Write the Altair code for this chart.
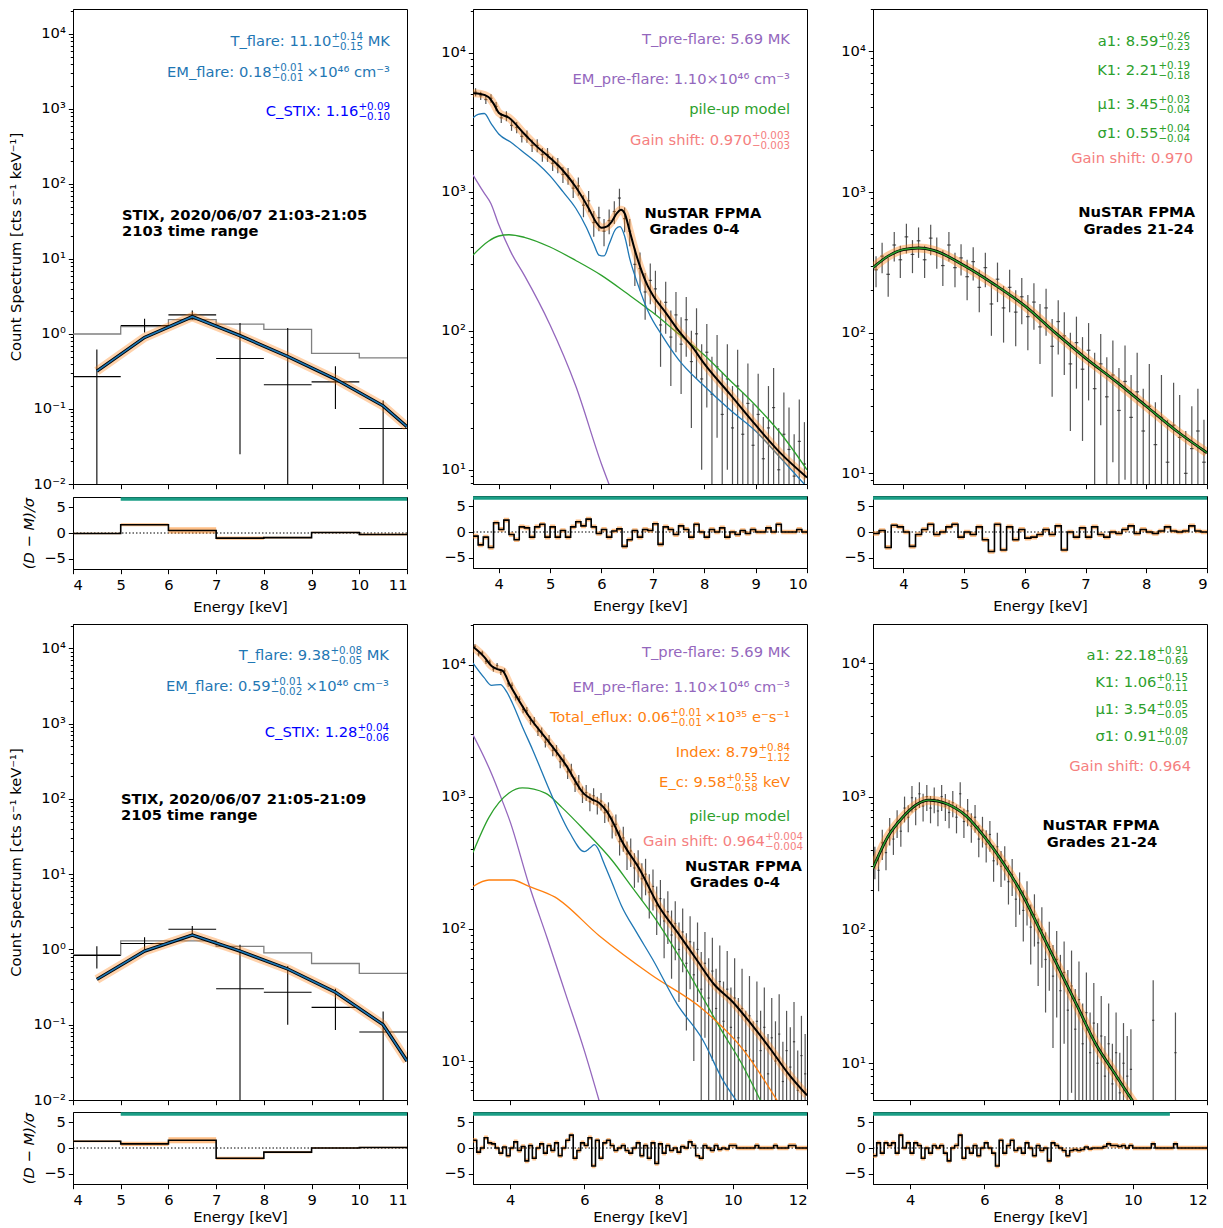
import altair as alt
import numpy as np
import pandas as pd

FONT = "DejaVu Sans"
FS = 14.7
SS = 10.3
W = 334
RES_H = 72

BLUE = "#1f77b4"; PBLUE = "#0000ff"; PURPLE = "#9467bd"; GREEN = "#2ca02c"
ORANGE = "#ff7f0e"; PINK = "#f58080"; TEAL = "#1a9e86"; GREY = "#808080"; DATA = "#2a2a2a"

# ---------------- STIX panels ----------------
STIX_E = [4.5, 5.5, 6.5, 7.5, 8.5, 9.5, 10.5]
STIX_EDGES = [4, 5, 6, 7, 8, 9, 10, 11]
STIX_MODEL_E = [4.5, 5.5, 6.5, 7.5, 8.5, 9.5, 10.5, 11.0]

TL_COUNTS = [0.27, 1.3, 1.8, 0.47, 0.21, 0.23, 0.055]
TL_LO = [0.01, 1.05, 1.55, 0.025, 0.01, 0.10, 0.01]
TL_HI = [0.62, 1.6, 2.05, 1.4, 1.2, 0.37, 0.13]
TL_BKG = [1.0, 1.25, 1.55, 1.35, 1.15, 0.55, 0.48]
TL_MODEL = [0.32, 0.9, 1.7, 0.95, 0.5, 0.25, 0.11, 0.058]
TL_RES = [-0.1, 1.6, 0.5, -1.0, -0.9, 0.1, -0.3]
TL_RES_W = [0.15, 0.3, 0.6, 0.3, 0.15, 0.15, 0.2]

BL_COUNTS = [0.83, 1.2, 1.85, 0.3, 0.27, 0.17, 0.08]
BL_LO = [0.56, 1.0, 1.6, 0.01, 0.1, 0.085, 0.01]
BL_HI = [1.1, 1.45, 2.05, 1.15, 0.6, 0.3, 0.15]
BL_BKG = [0.85, 1.3, 1.3, 1.1, 0.9, 0.65, 0.48]
BL_MODEL = [0.4, 0.95, 1.55, 0.95, 0.55, 0.27, 0.1, 0.033]
BL_RES = [1.3, 0.8, 1.5, -2.0, -0.8, 0.0, 0.1]
BL_RES_W = [0.2, 0.4, 0.6, 0.3, 0.2, 0.15, 0.15]

# ---------------- NuSTAR top-middle (grades 0-4, 2103) ----------------
TM_E = [round(3.55 + 0.1 * i, 2) for i in range(65)]
TM_COUNTS = [5200, 4900, 4600, 4700, 4100, 3400, 3500, 3000, 2900, 2500,
             2500, 2150, 2150, 1850, 1850, 1600, 1550, 1330, 1300, 1060,
             1100, 800, 860, 600, 650, 520, 620, 720, 900, 640,
             520, 300, 280, 190, 230, 200, 110, 160, 90, 130,
             80, 120, 60, 95, 45, 70, 35, 55, 25, 45,
             20, 40, 18, 30, 15, 25, 12, 20, 28, 10,
             18, 14, 9, 16, 11]
TM_ERR = [350, 340, 320, 330, 310, 280, 290, 260, 270, 240,
          250, 220, 230, 210, 210, 190, 195, 175, 180, 160,
          165, 145, 150, 125, 130, 115, 125, 135, 150, 130,
          115, 90, 85, 70, 75, 70, 55, 65, 50, 60,
          45, 55, 40, 50, 35, 42, 30, 38, 25, 35,
          20, 33, 18, 28, 15, 24, 12, 20, 26, 10,
          18, 14, 9, 16, 11]
TM_TOT_E = [3.5, 3.65, 3.8, 3.9, 4.0, 4.2, 4.5, 4.75, 5.0, 5.25, 5.5, 5.75, 5.9, 6.0, 6.1, 6.2,
            6.3, 6.38, 6.45, 6.55, 6.65, 6.75, 6.9, 7.0, 7.25, 7.5, 7.75, 8.0, 8.5, 9.0, 9.5, 10.0]
TM_TOT = [5100, 5050, 4800, 4300, 3700, 3400, 2600, 2100, 1750, 1420, 1080, 760, 600, 550, 560, 610,
          700, 740, 700, 520, 380, 290, 210, 180, 135, 100, 78, 58, 35, 21, 13, 8.8]
TM_FLARE_E = [3.5, 3.6, 3.72, 3.85, 4.0, 4.25, 4.5, 4.75, 5.0, 5.25, 5.5, 5.7, 5.85, 5.95, 6.05,
              6.15, 6.28, 6.36, 6.45, 6.55, 6.7, 6.9, 7.2, 7.5, 8.0, 8.5, 9.0, 9.5, 10.0]
TM_FLARE = [3400, 3600, 3650, 3100, 2600, 2250, 1900, 1600, 1300, 1000, 760, 560, 420, 350, 345,
            420, 540, 560, 480, 330, 220, 140, 90, 62, 40, 27, 19, 12, 7.5]
TM_PRE_E = [3.5, 3.7, 3.85, 4.0, 4.25, 4.5, 5.0, 5.5, 6.0, 6.2]
TM_PRE = [1320, 1000, 820, 580, 360, 250, 110, 40, 11, 7]
TM_PILE_E = [3.5, 3.8, 4.0, 4.2, 4.5, 5.0, 5.5, 6.0, 6.5, 7.0, 7.5, 8.0, 8.5, 9.0, 9.5, 10.0]
TM_PILE = [350, 440, 480, 490, 470, 400, 320, 250, 185, 135, 95, 67, 44, 29, 18, 10]
TM_RES_E = [round(3.5 + 0.1 * i, 2) for i in range(65)]
TM_RES = [-0.8, -2.5, -1.0, -3.0, 1.8, 0.5, 2.3, -0.5, -1.5, 1.0,
          0.8, -1.0, 1.0, 1.5, -1.0, 1.0, -1.0, 0.3, -1.0, 1.0,
          2.0, 1.2, 2.5, 1.0, -0.3, 0.5, -1.0, 0.2, 0.6, -2.8,
          -1.5, 0.3, -1.0, 0.5, 0.3, 1.6, -2.4, 1.0, 0.5, -0.5,
          1.2, 0.5, -1.0, 1.5, 0.0, -1.0, 0.5, 0.0, 0.8, -1.0,
          0.0, -0.5, 0.3, -0.3, 0.5, 0.0, 0.0, 0.8, 0.0, 1.5,
          0.0, 0.0, 0.0, 0.5, 0.0]

# ---------------- NuSTAR top-right (grades 21-24, 2103) ----------------
TR_E = [round(3.55 + 0.1 * i, 2) for i in range(55)]
TR_COUNTS = [280, 350, 260, 420, 330, 480, 360, 450, 330, 470,
             380, 300, 420, 290, 340, 250, 320, 210, 290, 160,
             240, 150, 210, 140, 180, 130, 165, 110, 150, 80,
             120, 95, 60, 85, 55, 75, 40, 60, 35, 50,
             28, 45, 25, 38, 20, 30, 16, 25, 12, 22,
             18, 10, 15, 20, 12]
TR_ERR = [70, 85, 80, 100, 85, 115, 95, 110, 85, 115,
          95, 85, 100, 80, 85, 80, 85, 70, 80, 65,
          75, 65, 70, 60, 65, 55, 60, 50, 55, 45,
          50, 45, 40, 45, 38, 42, 32, 38, 32, 38,
          28, 36, 25, 34, 20, 30, 16, 25, 12, 22,
          18, 10, 15, 20, 12]
TR_MOD_E = [3.5, 3.75, 4.0, 4.25, 4.5, 5.0, 5.5, 6.0, 6.5, 7.0, 7.5, 8.0, 8.5, 9.0]
TR_MOD = [290, 350, 390, 400, 385, 300, 220, 155, 100, 66, 45, 30, 20, 14]
TR_RES_E = [round(3.5 + 0.1 * i, 2) for i in range(55)]
TR_RES = [-0.3, 0.3, -3.0, 1.3, 1.0, 0.0, -2.8, -0.5, 0.5, 1.5,
          -0.5, 0.0, 1.0, 1.5, -1.0, 0.0, -0.5, 1.0, -1.5, -3.8,
          1.5, -3.5, 1.0, -1.5, 0.5, -1.2, -1.0, -0.5, 0.5, -0.5,
          1.2, -3.5, 0.0, -1.0, 0.8, -1.0, 1.0, -0.5, -1.0, 0.0,
          -0.3, 0.5, 1.2, -0.3, 0.5, 0.0, -0.3, 0.2, 1.0, 0.2,
          0.0, 0.2, 1.2, 0.2, 0.0]

# ---------------- NuSTAR bottom-middle (grades 0-4, 2105) ----------------
BM_E = [round(3.05 + 0.1 * i, 2) for i in range(90)]
BM_COUNTS = [13800, 12100, 12300, 10600, 10500, 9300, 9900, 8800, 9000, 7200,
             7000, 5700, 5500, 4600, 4500, 3800, 3750, 3150, 3100, 2600,
             2700, 2250, 2250, 1850, 1900, 1550, 1600, 1250, 1300, 1050,
             1080, 920, 1020, 870, 930, 760, 780, 600, 620, 460,
             490, 370, 390, 290, 310, 240, 260, 190, 210, 150,
             170, 115, 135, 90, 110, 70, 95, 55, 80, 45,
             70, 35, 55, 30, 48, 25, 40, 20, 35, 18,
             30, 15, 25, 12, 22, 10, 20, 12, 18, 8,
             15, 10, 16, 7, 12, 9, 14, 6, 11, 8]
BM_ERR = [500, 470, 480, 450, 440, 420, 430, 410, 410, 370,
          360, 330, 320, 300, 300, 280, 280, 260, 250, 230,
          240, 220, 220, 200, 200, 180, 180, 160, 165, 150,
          150, 140, 145, 135, 140, 125, 130, 115, 115, 100,
          105, 90, 95, 85, 85, 75, 80, 70, 72, 60,
          65, 55, 58, 48, 52, 42, 48, 38, 45, 35,
          42, 32, 40, 30, 38, 25, 35, 20, 33, 18,
          30, 15, 25, 12, 22, 10, 20, 12, 18, 8,
          15, 10, 16, 7, 12, 9, 14, 6, 11, 8]
BM_TOT_E = [3.0, 3.3, 3.5, 3.65, 3.8, 4.0, 4.25, 4.5, 5.0, 5.5, 6.0, 6.2, 6.4, 6.6, 6.8, 7.0,
            7.5, 8.0, 8.5, 9.0, 9.5, 10.0, 10.5, 11.0, 11.5, 12.0]
BM_TOT = [13700, 11500, 9800, 9300, 9000, 7000, 5300, 4100, 2700, 1750, 1050, 960, 900, 780, 620, 470,
          280, 150, 95, 60, 38, 28, 19, 12.5, 8, 5.5]
BM_FLARE_E = [3.0, 3.3, 3.5, 3.74, 3.9, 4.06, 4.33, 4.6, 5.14, 5.6, 6.0, 6.15, 6.27, 6.4, 6.5,
              6.75, 7.0, 7.4, 7.84, 8.5, 9.19, 9.73, 10.1]
BM_FLARE = [10300, 8000, 7000, 7100, 6300, 5150, 3400, 2300, 1000, 540, 385, 410, 435, 390, 330,
            223, 150, 95, 59, 27, 14.5, 7.2, 5]
BM_PRE_E = [3.0, 3.5, 3.78, 4.0, 4.5, 5.0, 5.5, 6.0, 6.4]
BM_PRE = [2950, 1500, 950, 650, 220, 85, 32, 12, 5]
BM_PILE_E = [3.0, 3.43, 3.97, 4.33, 4.95, 5.4, 6.0, 6.75, 7.27, 8.0, 8.6, 9.2, 9.7, 10.2, 10.75]
BM_PILE = [380, 700, 1070, 1170, 1070, 830, 560, 330, 210, 110, 59, 30, 17, 10, 5]
BM_NT_E = [3.0, 3.43, 4.06, 4.51, 5.2, 6.4, 7.8, 9.2, 10.3, 11.2]
BM_NT = [210, 235, 235, 210, 175, 89, 45, 24.6, 12, 5]
BM_RES_E = [round(3.0 + 0.1 * i, 2) for i in range(90)]
BM_RES = [1.5, -0.8, 0.0, 2.0, 1.0, 0.8, 0.0, -1.0, 0.2, -1.5,
          0.0, 1.2, -0.5, 0.3, -2.5, 0.5, -2.0, 0.0, 0.8, -1.0,
          0.5, -0.5, 1.0, -1.5, 0.0, 1.5, 2.5, -2.0, -0.5, 1.0,
          0.5, 2.0, -3.5, 1.5, -2.0, 1.0, 1.5, 0.5, -0.5, 0.0,
          0.5, -0.5, -1.0, 0.0, 1.0, -1.5, 0.5, -2.0, 1.0, -3.0,
          0.8, -1.0, 0.5, -0.5, 0.0, -0.8, 0.3, 0.0, 1.2, 0.5,
          -1.5, -2.0, 0.5, 0.0, -0.5, 0.5, -0.3, 0.0, -0.2, 0.5,
          0.5, 0.0, 0.0, 0.0, 0.0, 0.0, 0.5, 0.0, 0.0, 0.0,
          0.0, 0.5, 0.0, 0.0, 0.0, 0.5, 0.5, 0.0, 0.0, 0.0]

# ---------------- NuSTAR bottom-right (grades 21-24, 2105) ----------------
BR_E = [round(3.05 + 0.1 * i, 2) for i in range(70)] + [10.55, 11.15]
BR_COUNTS = [330, 280, 450, 380, 560, 480, 640, 550, 820, 700,
             980, 800, 1050, 850, 1000, 820, 960, 780, 1000, 850,
             760, 900, 700, 1050, 650, 780, 600, 700, 480, 560,
             440, 520, 330, 420, 300, 330, 230, 260, 170, 200,
             140, 170, 105, 130, 80, 100, 60, 75, 45, 60,
             35, 48, 25, 38, 18, 30, 14, 24, 12, 20,
             10, 16, 8, 14, 7, 12, 6, 10, 8, 9,
             21, 12]
BR_ERR = [90, 85, 115, 100, 130, 115, 150, 130, 180, 160,
          220, 190, 230, 200, 220, 190, 210, 180, 220, 195,
          180, 200, 170, 230, 160, 180, 150, 165, 130, 145,
          120, 135, 100, 115, 90, 95, 75, 80, 65, 70,
          58, 62, 50, 55, 42, 48, 36, 40, 32, 38,
          30, 34, 25, 32, 18, 28, 14, 24, 12, 20,
          10, 16, 8, 14, 7, 12, 6, 10, 8, 9,
          21, 12]
BR_MOD_E = [3.0, 3.4, 3.8, 4.2, 4.5, 5.0, 5.5, 6.0, 6.5, 7.0, 7.5, 8.0, 8.5, 9.0, 9.5, 10.0, 10.3]
BR_MOD = [290, 500, 700, 880, 940, 880, 720, 500, 320, 190, 100, 52, 27, 14, 8.5, 5.2, 4.0]
BR_RES_E = [round(3.0 + 0.1 * i, 2) for i in range(90)]
BR_RES = [-1.5, 1.0, -1.0, 1.0, 0.5, 1.0, -1.0, 2.5, 0.0, 1.0,
          -1.0, 1.0, 0.5, -2.0, 0.0, -1.0, 0.5, 0.0, 0.5, -1.0,
          -2.5, 0.0, 0.5, 2.5, -2.0, 0.0, -1.0, 0.5, -1.5, 0.0,
          1.0, 0.0, -1.0, -3.5, 1.5, -1.0, 0.5, 1.5, -0.5, 0.0,
          -1.0, 1.0, 0.0, -1.5, 0.5, -0.5, 0.0, -2.5, 1.0, 0.5,
          0.0, -0.5, -1.5, -0.5, -0.3, -0.5, -0.3, 0.2, -0.2, 0.0,
          0.0, 0.0, 0.3, 0.8, 0.5, 0.5, 0.3, 0.5, 0.0, 0.5,
          0.0, 0.0, 0.0, 0.0, 0.0, 0.8, 0.0, 0.0, 0.0, 0.0,
          0.0, 0.8, 0.0, 0.0, 0.0, 0.0, 0.0, 0.0, 0.0, 0.0]

# fit ranges (teal bars)
FIT_TL = [5, 11]; FIT_TM = [3.5, 10]; FIT_TR = [3.5, 9]
FIT_BL = [5, 11]; FIT_BM = [3, 12]; FIT_BR = [3, 11]
FIT_BAR_Y = 6.6

for a, b in [(TM_E, TM_COUNTS), (TM_E, TM_ERR), (TM_RES_E, TM_RES), (TR_E, TR_COUNTS), (TR_E, TR_ERR),
             (TR_RES_E, TR_RES), (BM_E, BM_COUNTS), (BM_E, BM_ERR), (BM_RES_E, BM_RES),
             (BR_E, BR_COUNTS), (BR_E, BR_ERR), (BR_RES_E, BR_RES)]:
    assert len(a) == len(b), (len(a), len(b))

# ---------------- helpers ----------------
DEC_TEST = "abs(log(datum.value)/LN10 - round(log(datum.value)/LN10)) < 0.01"
LABEL_EXPR = ("abs(log(datum.value)/LN10 - round(log(datum.value)/LN10)) < 0.01 ? '10' + "
              "replace(replace(replace(replace(replace(replace(toString(round(log(datum.value)/LN10)),"
              "'-','\u207b'),'0','\u2070'),'1','\u00b9'),'2','\u00b2'),'3','\u00b3'),'4','\u2074') : ''")


def log_ticks(lo, hi):
    out = []
    for e in range(int(np.floor(np.log10(lo))), int(np.ceil(np.log10(hi))) + 1):
        for m in range(1, 10):
            v = float(m * 10.0 ** e)
            if lo * 0.999 <= v <= hi:
                out.append(v)
    return out


WID = {' ': 651, '.': 651, ',': 651, ':': 690, '_': 1024, '+': 1716, '\u2212': 1716, '-': 739, '\u00d7': 1716,
       'A': 1401, 'C': 1430, 'D': 1577, 'E': 1294, 'F': 1178, 'G': 1577, 'I': 604, 'K': 1343, 'M': 1767,
       'N': 1532, 'P': 1235, 'R': 1423, 'S': 1300, 'T': 1251, 'U': 1499, 'V': 1401, 'X': 1405,
       'a': 1255, 'c': 1126, 'd': 1300, 'e': 1260, 'f': 721, 'g': 1300, 'h': 1298, 'i': 569, 'k': 1186,
       'l': 569, 'm': 1995, 'n': 1298, 'o': 1253, 'p': 1300, 'r': 842, 's': 1067, 't': 803, 'u': 1298,
       'x': 1212, 'y': 1212, '\u03bc': 1300, '\u03c3': 1233}
for d in "0123456789":
    WID[d] = 1303
for d in "\u2070\u00b9\u00b2\u00b3\u2074\u2075\u2076\u2077\u2078\u2079\u207b":
    WID[d] = 1000


def tw(s, size):
    return sum(WID.get(c, 1200) for c in s) / 2048.0 * size


def rich(xr, yc, main, sup=None, sub=None, tail="", color="black"):
    rows = []
    x = xr
    if tail:
        rows.append(dict(px=x, py=yc, text=tail, color=color, size=FS, align="right", weight="normal"))
        x -= tw(tail, FS)
    if sup:
        rows.append(dict(px=x, py=yc - 5.5, text=sup, color=color, size=SS, align="right", weight="normal"))
        rows.append(dict(px=x, py=yc + 4.5, text=sub, color=color, size=SS, align="right", weight="normal"))
        x -= max(tw(sup, SS), tw(sub, SS))
    rows.append(dict(px=x, py=yc, text=main, color=color, size=FS, align="right", weight="normal"))
    return rows


def plain(xr, yc, text, color):
    return [dict(px=xr, py=yc, text=text, color=color, size=FS, align="right", weight="normal")]


def bold(x, yc, text, align="left"):
    return [dict(px=x, py=yc, text=text, color="black", size=FS, align=align, weight="bold")]


def text_layers(rows):
    df = pd.DataFrame(rows)
    out = []
    for (al, wt), g in df.groupby(["align", "weight"]):
        out.append(alt.Chart(g).mark_text(align=al, baseline="middle", font=FONT, fontWeight=wt).encode(
            x=alt.X("px:Q", scale=None, axis=None),
            y=alt.Y("py:Q", scale=None, axis=None),
            text="text:N",
            color=alt.Color("color:N", scale=None),
            size=alt.Size("size:Q", scale=None)))
    return out


class Panel:
    def __init__(self, xdom, xticks, ydom, main_h, ytitle=None, rtitle=None, xtpad=7):
        self.xdom, self.xticks, self.ydom, self.main_h = xdom, xticks, ydom, main_h
        self.ytitle, self.rtitle, self.xtpad = ytitle, rtitle, xtpad

    def x(self, f):
        return alt.X(f"{f}:Q", scale=alt.Scale(domain=self.xdom, nice=False, zero=False),
                     axis=alt.Axis(values=self.xticks, labels=False, title=None, tickSize=4.7))

    def y(self, f):
        return alt.Y(f"{f}:Q", scale=alt.Scale(type="log", domain=self.ydom, nice=False),
                     axis=alt.Axis(values=log_ticks(*self.ydom), labelExpr=LABEL_EXPR, labelOverlap=False,
                                   tickSize={"condition": {"test": DEC_TEST, "value": 4.7}, "value": 2.7},
                                   labelFontSize={"condition": {"test": DEC_TEST, "value": FS}, "value": 0},
                                   title=self.ytitle, titlePadding=9, labelPadding=3))

    def rx(self, f):
        return alt.X(f"{f}:Q", scale=alt.Scale(domain=self.xdom, nice=False, zero=False),
                     axis=alt.Axis(values=self.xticks, format="d", title="Energy [keV]", tickSize=4.7,
                                   titlePadding=self.xtpad, labelPadding=4))

    def ry(self, f):
        return alt.Y(f"{f}:Q", scale=alt.Scale(domain=[-7, 7], nice=False, zero=False),
                     axis=alt.Axis(values=[-5, 0, 5], format="d", title=self.rtitle, tickSize=4.7,
                                   titleFontStyle="italic", titlePadding=7, labelPadding=3))

    def line(self, E, V, color, width, opacity=1.0, interp="monotone"):
        df = pd.DataFrame({"e": E, "v": V})
        return alt.Chart(df).mark_line(color=color, strokeWidth=width, opacity=opacity, interpolate=interp,
                                       clip=True).encode(x=self.x("e"), y=self.y("v"))

    def nustar_data(self, E, C, ERR, hw=0.03):
        df = pd.DataFrame({"e": E, "v": C, "err": ERR})
        df["lo"] = np.maximum(df["v"] - df["err"], self.ydom[0])
        df["hi"] = df["v"] + df["err"]
        df["xl"] = df["e"] - hw
        df["xh"] = df["e"] + hw
        v = alt.Chart(df).mark_rule(color=DATA, strokeWidth=1.2, opacity=0.8, clip=True).encode(
            x=self.x("e"), y=self.y("lo"), y2="hi")
        h = alt.Chart(df).mark_rule(color=DATA, strokeWidth=1.2, opacity=0.8, clip=True).encode(
            x=self.x("xl"), x2="xh", y=self.y("v"))
        return [v, h]

    def stix_data(self, E, C, LO, HI, edges):
        df = pd.DataFrame({"e": E, "v": C, "lo": LO, "hi": HI, "xl": edges[:-1], "xh": edges[1:]})
        v = alt.Chart(df).mark_rule(color="black", strokeWidth=1.1, clip=True).encode(
            x=self.x("e"), y=self.y("lo"), y2="hi")
        h = alt.Chart(df).mark_rule(color="black", strokeWidth=1.1, clip=True).encode(
            x=self.x("xl"), x2="xh", y=self.y("v"))
        return [v, h]

    def main(self, layers):
        return alt.layer(*layers).properties(width=W, height=self.main_h)

    def resid(self, edges, end, vals, halfw, fit):
        e = list(edges) + [end]
        v = np.array(list(vals) + [vals[-1]], dtype=float)
        w = np.array(list(halfw) + [halfw[-1]], dtype=float) if isinstance(halfw, list) else halfw
        df = pd.DataFrame({"e": e, "r": v, "lo": v - w, "hi": v + w})
        zero = alt.Chart(pd.DataFrame({"z": [0.0]})).mark_rule(color="black", strokeDash=[1.5, 2],
                                                               strokeWidth=1).encode(y=self.ry("z"))
        band = alt.Chart(df).mark_area(interpolate="step-after", color=ORANGE, opacity=0.5, clip=True).encode(
            x=self.rx("e"), y=self.ry("lo"), y2="hi")
        ln = alt.Chart(df).mark_line(interpolate="step-after", color="black", strokeWidth=1.6, clip=True).encode(
            x=self.rx("e"), y=self.ry("r"))
        fdf = pd.DataFrame({"a": [fit[0]], "b": [fit[1]], "y": [FIT_BAR_Y]})
        fb = alt.Chart(fdf).mark_rule(color=TEAL, strokeWidth=3.5, clip=True).encode(
            x=self.rx("a"), x2="b", y=self.ry("y"))
        return alt.layer(zero, band, ln, fb).properties(width=W, height=RES_H)


def col(main, res, sp):
    return alt.vconcat(main, res, spacing=sp)


YT = "Count Spectrum [cts s\u207b\u00b9 keV\u207b\u00b9]"
RT = "(D \u2212 M)/\u03c3"
EM_TAIL = "\u00d710\u2074\u2076 cm\u207b\u00b3"

# ---------------- top-left ----------------
p = Panel([4, 11], [4, 5, 6, 7, 8, 9, 10, 11], [0.01, 21500], 475, YT, RT)
ann = (rich(317, 33, "T_flare: 11.10", "+0.14", "\u22120.15", " MK", BLUE)
       + rich(317, 64, "EM_flare: 0.18", "+0.01", "\u22120.01", EM_TAIL, BLUE)
       + rich(317, 103, "C_STIX: 1.16", "+0.09", "\u22120.10", "", PBLUE)
       + bold(49, 207, "STIX, 2020/06/07 21:03-21:05") + bold(49, 223, "2103 time range"))
bkg = pd.DataFrame({"e": STIX_EDGES, "v": TL_BKG + [TL_BKG[-1]]})
tl_main = p.main(
    [alt.Chart(bkg).mark_line(interpolate="step-after", color=GREY, strokeWidth=1.3, clip=True).encode(
        x=p.x("e"), y=p.y("v"))]
    + p.stix_data(STIX_E, TL_COUNTS, TL_LO, TL_HI, STIX_EDGES)
    + [p.line(STIX_MODEL_E, TL_MODEL, ORANGE, 9, 0.35, "linear"),
       p.line(STIX_MODEL_E, TL_MODEL, "black", 3.4, 1, "linear"),
       p.line(STIX_MODEL_E, TL_MODEL, BLUE, 1.6, 1, "linear")]
    + text_layers(ann))
tl = col(tl_main, p.resid(STIX_EDGES[:-1], 11, TL_RES, TL_RES_W, FIT_TL), 4)

# ---------------- top-middle ----------------
p = Panel([3.5, 10], [4, 5, 6, 7, 8, 9, 10], [7.9, 20600], 475)
ann = (plain(317, 31, "T_pre-flare: 5.69 MK", PURPLE)
       + plain(317, 71, "EM_pre-flare: 1.10" + EM_TAIL, PURPLE)
       + plain(317, 101, "pile-up model", GREEN)
       + rich(317, 132, "Gain shift: 0.970", "+0.003", "\u22120.003", "", PINK)
       + bold(171.5, 205, "NuSTAR FPMA") + bold(176.5, 221, "Grades 0-4"))
tm_main = p.main(
    p.nustar_data(TM_E, TM_COUNTS, TM_ERR)
    + [p.line(TM_PRE_E, TM_PRE, PURPLE, 1.3),
       p.line(TM_PILE_E, TM_PILE, GREEN, 1.3),
       p.line(TM_FLARE_E, TM_FLARE, BLUE, 1.3),
       p.line(TM_TOT_E, TM_TOT, ORANGE, 8, 0.35),
       p.line(TM_TOT_E, TM_TOT, "black", 2.0)]
    + text_layers(ann))
tm = col(tm_main, p.resid(TM_RES_E, 10.0, TM_RES, 0.45, FIT_TM), 5)

# ---------------- top-right ----------------
p = Panel([3.5, 9], [4, 5, 6, 7, 8, 9], [8.4, 20000], 475)
ann = (rich(317, 33, "a1: 8.59", "+0.26", "\u22120.23", "", GREEN)
       + rich(317, 62, "K1: 2.21", "+0.19", "\u22120.18", "", GREEN)
       + rich(317, 96, "\u03bc1: 3.45", "+0.03", "\u22120.04", "", GREEN)
       + rich(317, 125, "\u03c31: 0.55", "+0.04", "\u22120.04", "", GREEN)
       + plain(320, 150, "Gain shift: 0.970", PINK)
       + bold(322, 204, "NuSTAR FPMA", "right") + bold(321, 221, "Grades 21-24", "right"))
tr_main = p.main(
    p.nustar_data(TR_E, TR_COUNTS, TR_ERR)
    + [p.line(TR_MOD_E, TR_MOD, ORANGE, 9, 0.4),
       p.line(TR_MOD_E, TR_MOD, "black", 2.8),
       p.line(TR_MOD_E, TR_MOD, GREEN, 1.4)]
    + text_layers(ann))
tr = col(tr_main, p.resid(TR_RES_E, 9.0, TR_RES, 0.45, FIT_TR), 5)

# ---------------- bottom-left ----------------
p = Panel([4, 11], [4, 5, 6, 7, 8, 9, 10, 11], [0.01, 21000], 476, YT, RT, xtpad=2)
ann = (rich(316, 32, "T_flare: 9.38", "+0.08", "\u22120.05", " MK", BLUE)
       + rich(316, 63, "EM_flare: 0.59", "+0.01", "\u22120.02", EM_TAIL, BLUE)
       + rich(316, 109, "C_STIX: 1.28", "+0.04", "\u22120.06", "", PBLUE)
       + bold(48, 176, "STIX, 2020/06/07 21:05-21:09") + bold(48, 192, "2105 time range"))
bkg = pd.DataFrame({"e": STIX_EDGES, "v": BL_BKG + [BL_BKG[-1]]})
bl_main = p.main(
    [alt.Chart(bkg).mark_line(interpolate="step-after", color=GREY, strokeWidth=1.3, clip=True).encode(
        x=p.x("e"), y=p.y("v"))]
    + p.stix_data(STIX_E, BL_COUNTS, BL_LO, BL_HI, STIX_EDGES)
    + [p.line(STIX_MODEL_E, BL_MODEL, ORANGE, 9, 0.35, "linear"),
       p.line(STIX_MODEL_E, BL_MODEL, "black", 3.4, 1, "linear"),
       p.line(STIX_MODEL_E, BL_MODEL, BLUE, 1.6, 1, "linear")]
    + text_layers(ann))
bl = col(bl_main, p.resid(STIX_EDGES[:-1], 11, BL_RES, BL_RES_W, FIT_BL), 3)

# ---------------- bottom-middle ----------------
p = Panel([3, 12], [4, 6, 8, 10, 12], [5.07, 20400], 476, xtpad=2)
ann = (plain(317, 29, "T_pre-flare: 5.69 MK", PURPLE)
       + plain(317, 64, "EM_pre-flare: 1.10" + EM_TAIL, PURPLE)
       + rich(317, 94, "Total_eflux: 0.06", "+0.01", "\u22120.01", "\u00d710\u00b3\u2075 e\u207bs\u207b\u00b9", ORANGE)
       + rich(317, 129, "Index: 8.79", "+0.84", "\u22121.12", "", ORANGE)
       + rich(317, 159, "E_c: 9.58", "+0.55", "\u22120.58", " keV", ORANGE)
       + plain(317, 193, "pile-up model", GREEN)
       + rich(330, 218, "Gain shift: 0.964", "+0.004", "\u22120.004", "", PINK)
       + bold(212, 243, "NuSTAR FPMA") + bold(217, 259, "Grades 0-4"))
bm_main = p.main(
    p.nustar_data(BM_E, BM_COUNTS, BM_ERR)
    + [p.line(BM_PRE_E, BM_PRE, PURPLE, 1.3),
       p.line(BM_PILE_E, BM_PILE, GREEN, 1.3),
       p.line(BM_NT_E, BM_NT, ORANGE, 1.3),
       p.line(BM_FLARE_E, BM_FLARE, BLUE, 1.3),
       p.line(BM_TOT_E, BM_TOT, ORANGE, 8, 0.35),
       p.line(BM_TOT_E, BM_TOT, "black", 2.0)]
    + text_layers(ann))
bm = col(bm_main, p.resid(BM_RES_E, 12.0, BM_RES, 0.45, FIT_BM), 5)

# ---------------- bottom-right ----------------
p = Panel([3, 12], [4, 6, 8, 10, 12], [5.3, 19700], 476, xtpad=2)
ann = (rich(315, 32, "a1: 22.18", "+0.91", "\u22120.69", "", GREEN)
       + rich(315, 59, "K1: 1.06", "+0.15", "\u22120.11", "", GREEN)
       + rich(315, 86, "\u03bc1: 3.54", "+0.05", "\u22120.05", "", GREEN)
       + rich(315, 113, "\u03c31: 0.91", "+0.08", "\u22120.07", "", GREEN)
       + plain(318, 143, "Gain shift: 0.964", PINK)
       + bold(228, 202, "NuSTAR FPMA", "center") + bold(229, 219, "Grades 21-24", "center"))
br_main = p.main(
    p.nustar_data(BR_E, BR_COUNTS, BR_ERR)
    + [p.line(BR_MOD_E, BR_MOD, ORANGE, 9, 0.4),
       p.line(BR_MOD_E, BR_MOD, "black", 2.8),
       p.line(BR_MOD_E, BR_MOD, GREEN, 1.4)]
    + text_layers(ann))
br = col(br_main, p.resid(BR_RES_E, 12.0, BR_RES, 0.45, FIT_BR), 5)

row1 = alt.hconcat(tl, tm, tr, spacing=32)
row2 = alt.hconcat(bl, bm, br, spacing=32)

chart = alt.vconcat(row1, row2, spacing=8).properties(
    padding={"left": 0, "top": 0, "right": 4, "bottom": 0}
).configure(font=FONT).configure_axis(
    labelFont=FONT, titleFont=FONT, labelFontSize=FS, titleFontSize=FS, titleFontWeight="normal",
    labelColor="black", titleColor="black", tickColor="black", domainColor="black",
    tickWidth=1, domainWidth=1, grid=False
).configure_view(stroke="black", strokeWidth=1)

chart.save("out.html", embed_options={"renderer": "svg", "actions": False})
